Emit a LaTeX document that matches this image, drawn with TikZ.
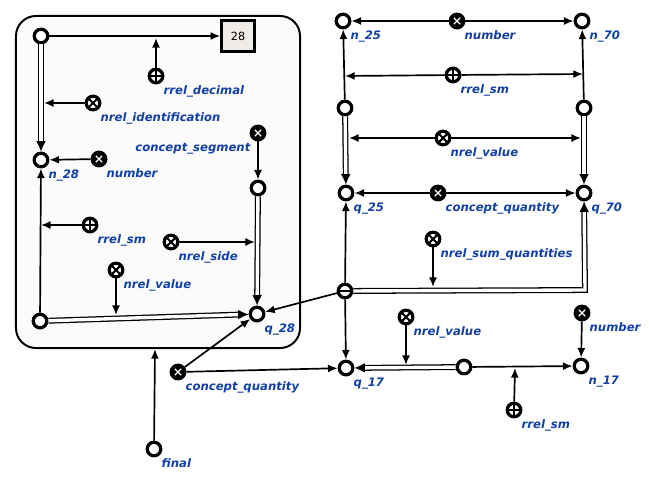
\documentclass[tikz,border=0pt]{standalone}
\usepackage{fontspec}
\setsansfont{DejaVu Sans}
\usetikzlibrary{arrows.meta}
\definecolor{scblue}{RGB}{18,64,165}
\definecolor{linkgray}{RGB}{239,236,231}
\begin{document}
\begin{tikzpicture}[
  x=0.025cm, y=-0.025cm,
  scnode/.style={draw, circle, line width=2.3pt, fill=white, minimum size=0.34cm, inner sep=0pt},
  nrelnode/.style={scnode, path picture={
    \draw[line width=1.5pt] ([shift={(-.12cm,-.12cm)}]path picture bounding box.center) -- ([shift={(.12cm,.12cm)}]path picture bounding box.center)
      ([shift={(-.12cm,.12cm)}]path picture bounding box.center) -- ([shift={(.12cm,-.12cm)}]path picture bounding box.center);}},
  rrelnode/.style={scnode, path picture={
    \draw[line width=1.5pt] ([xshift=-.17cm]path picture bounding box.center) -- ([xshift=.17cm]path picture bounding box.center)
      ([yshift=-.17cm]path picture bounding box.center) -- ([yshift=.17cm]path picture bounding box.center);}},
  classnode/.style={scnode, fill=black, path picture={
    \draw[white, line width=0.9pt] ([shift={(-.08cm,-.08cm)}]path picture bounding box.center) -- ([shift={(.08cm,.08cm)}]path picture bounding box.center)
      ([shift={(-.08cm,.08cm)}]path picture bounding box.center) -- ([shift={(.08cm,-.08cm)}]path picture bounding box.center);}},
  tuplenode/.style={scnode, path picture={
    \draw[line width=1.5pt] ([xshift=-.17cm]path picture bounding box.center) -- ([xshift=.17cm]path picture bounding box.center);}},
  linknode/.style={draw, rectangle, line width=2pt, fill=linkgray, minimum width=0.82cm, minimum height=0.78cm,
    font=\fontsize{8}{10}\selectfont\sffamily, path picture={
    \fill (path picture bounding box.north west) -- ++(0.13cm,0) -- ++(-0.13cm,-0.13cm) -- cycle;}},
  contour/.style={draw, line width=1.4pt, rounded corners=0.5cm, fill=black!1.5, inner sep=0pt},
  lbl/.style={font=\fontsize{8.3}{10}\selectfont\sffamily\bfseries\itshape, text=scblue, inner sep=1pt, yshift=-0.06cm},
  arc/.style={draw, line width=1.2pt, -{Latex[length=2.4mm, width=2mm]}},
  dblarc/.style={draw, line width=0.9pt, double=white, double distance=2.4pt, -{Latex[length=2.6mm, width=2.4mm]}}
]
\useasboundingbox (0,0) rectangle (649,481);
% Contour
\node[contour, minimum width=7.1cm, minimum height=8.3cm] (ctr) at (158,182) {};
% Inside the contour
\node[scnode] (a) at (41,36) {};
\node[linknode] (lnk) at (238,36) {28};
\node[rrelnode, label={[lbl]below right:rrel\_decimal}] (rdec) at (156,76) {};
\node[nrelnode, label={[lbl]below right:nrel\_identification}] (nident) at (93,103) {};
\node[scnode, label={[lbl]below right:n\_28}] (n28) at (41,160) {};
\node[classnode, label={[lbl]below right:number}] (num1) at (99,159) {};
\node[classnode, label={[lbl]below left:concept\_segment}] (cseg) at (258,133) {};
\node[scnode] (seg) at (258,188) {};
\node[rrelnode, label={[lbl]below right:rrel\_sm}] (rsm1) at (90,225) {};
\node[nrelnode, label={[lbl]below right:nrel\_side}] (nside) at (171,242) {};
\node[nrelnode, label={[lbl]below right:nrel\_value}] (nval1) at (116,270) {};
\node[scnode] (b) at (40,321) {};
\node[scnode, label={[lbl]below right:q\_28}] (q28) at (257,314) {};
% Outside the contour
\node[scnode, label={[lbl]below right:final}] (final) at (154,449) {};
\node[classnode, label={[lbl]below right:concept\_quantity}] (cq1) at (178,372) {};
\node[tuplenode] (tup) at (345,291) {};
\node[nrelnode, label={[lbl]below right:nrel\_sum\_quantities}] (nsum) at (433,239) {};
% Upper right
\node[scnode, label={[lbl]below right:n\_25}] (n25) at (343,21) {};
\node[classnode, label={[lbl]below right:number}] (num2) at (457,21) {};
\node[scnode, label={[lbl]below right:n\_70}] (n70) at (582,21) {};
\node[rrelnode, label={[lbl]below right:rrel\_sm}] (rsm2) at (453,75) {};
\node[scnode] (v25) at (345,108) {};
\node[scnode] (v70) at (584,108) {};
\node[nrelnode, label={[lbl]below right:nrel\_value}] (nval2) at (443,138) {};
\node[scnode, label={[lbl]below right:q\_25}] (q25) at (346,193) {};
\node[classnode, label={[lbl]below right:concept\_quantity}] (cq2) at (438,193) {};
\node[scnode, label={[lbl]below right:q\_70}] (q70) at (584,193) {};
% Lower right
\node[scnode, label={[lbl]below right:q\_17}] (q17) at (346,368) {};
\node[scnode] (v17) at (464,367) {};
\node[nrelnode, label={[lbl]below right:nrel\_value}] (nval3) at (406,317) {};
\node[scnode, label={[lbl]below right:n\_17}] (n17) at (581,366) {};
\node[rrelnode, label={[lbl]below right:rrel\_sm}] (rsm3) at (514,410) {};
\node[classnode, label={[lbl]below right:number}] (num3) at (582,313) {};
% Points on arcs
\coordinate (pdec) at (156,38);
\coordinate (pident) at (44,103);
\coordinate (psm1) at (41,225);
\coordinate (pside) at (255,242);
\coordinate (pval1) at (116,315);
\coordinate (cbot) at (155,349);
\coordinate (psm2l) at (345,76);
\coordinate (psm2r) at (583,74);
\coordinate (pval2l) at (349,138);
\coordinate (pval2r) at (581,138);
\coordinate (corner) at (585,290);
\coordinate (psum) at (433,287);
\coordinate (pval3) at (406,365);
\coordinate (psm3) at (515,368);
% Arcs inside the contour
\draw[arc] (a) -- (lnk);
\draw[arc] (rdec) -- (pdec);
\draw[dblarc] (a) -- (n28);
\draw[arc] (nident) -- (pident);
\draw[arc] (num1) -- (n28);
\draw[arc] (b) -- (n28);
\draw[arc] (rsm1) -- (psm1);
\draw[dblarc] (b) -- (q28);
\draw[arc] (nval1) -- (pval1);
\draw[arc] (cseg) -- (seg);
\draw[dblarc] (seg) -- (q28);
\draw[arc] (nside) -- (pside);
% Arcs outside
\draw[arc] (final) -- (cbot);
\draw[arc] (cq1) -- (q28);
\draw[arc] (cq1) -- (q17);
\draw[arc] (tup) -- (q28);
\draw[arc] (tup) -- (q25);
\draw[arc] (tup) -- (q17);
\draw[dblarc] (tup) -- (corner) -- (q70);
\draw[arc] (nsum) -- (psum);
% Upper right arcs
\draw[arc] (num2) -- (n25);
\draw[arc] (num2) -- (n70);
\draw[arc] (v25) -- (n25);
\draw[arc] (v70) -- (n70);
\draw[arc] (rsm2) -- (psm2l);
\draw[arc] (rsm2) -- (psm2r);
\draw[dblarc] (v25) -- (q25);
\draw[dblarc] (v70) -- (q70);
\draw[arc] (nval2) -- (pval2l);
\draw[arc] (nval2) -- (pval2r);
\draw[arc] (cq2) -- (q25);
\draw[arc] (cq2) -- (q70);
% Lower right arcs
\draw[dblarc] (v17) -- (q17);
\draw[arc] (nval3) -- (pval3);
\draw[arc] (v17) -- (n17);
\draw[arc] (rsm3) -- (psm3);
\draw[arc] (num3) -- (n17);
\end{tikzpicture}
\end{document}
